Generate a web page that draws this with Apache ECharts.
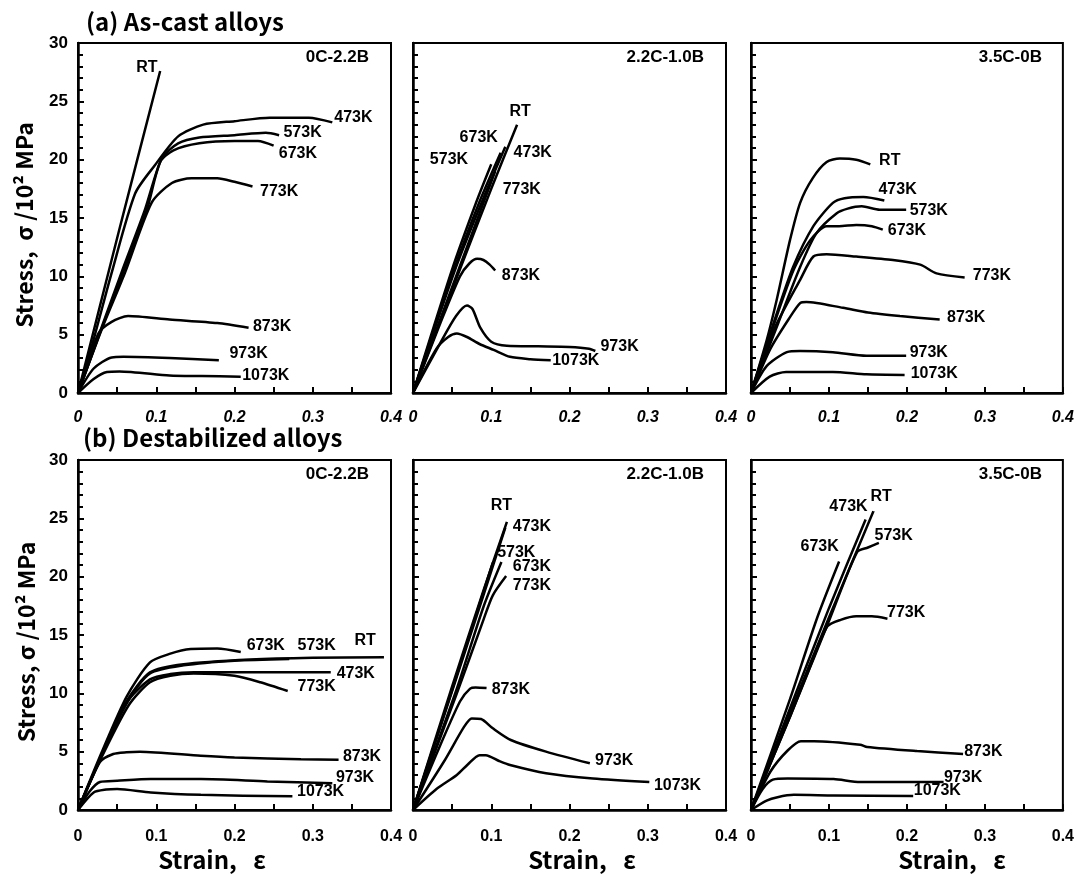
<!DOCTYPE html>
<html>
<head>
<meta charset="utf-8">
<title>Stress-strain curves</title>
<script src="https://cdn.jsdelivr.net/npm/echarts@6/dist/echarts.min.js"></script>
<style>
  html, body { margin: 0; padding: 0; background: #fff; }
  #chart { width: 1077px; height: 875px; }
</style>
</head>
<body>
<div id="chart"></div>
<script>
// test temperatures, same order in every panel
const temps = ['RT', '473K', '573K', '673K', '773K', '873K', '973K', '1073K']
const strainTicks = [0, 0.1, 0.2, 0.3, 0.4]
const stressTicks = [0, 5, 10, 15, 20, 25, 30]

// (a) as-cast, 0C-2.2B   [strain, stress /10^2 MPa]
const cast0C = {
  'RT':    [[0, 0], [0.052, 13.8], [0.105, 27.6]],
  '473K':  [[0, 0], [0.02, 4.6], [0.043, 10.3], [0.073, 17.1], [0.098, 19.5], [0.128, 22.0], [0.16, 23.0], [0.2, 23.3], [0.245, 23.6], [0.295, 23.6], [0.325, 23.2]],
  '573K':  [[0, 0], [0.03, 5.6], [0.056, 10.4], [0.085, 15.6], [0.107, 20.1], [0.128, 21.4], [0.155, 21.9], [0.2, 22.1], [0.24, 22.3], [0.257, 22.1]],
  '673K':  [[0, 0], [0.03, 5.5], [0.058, 10.4], [0.088, 15.7], [0.105, 19.8], [0.122, 20.8], [0.155, 21.4], [0.2, 21.6], [0.23, 21.6], [0.25, 21.2]],
  '773K':  [[0, 0], [0.03, 5.4], [0.06, 10.3], [0.094, 16.3], [0.12, 18.0], [0.145, 18.4], [0.178, 18.4], [0.2, 18.1], [0.223, 17.7]],
  '873K':  [[0, 0], [0.026, 5.1], [0.043, 6.1], [0.064, 6.6], [0.117, 6.3], [0.178, 6.0], [0.218, 5.6]],
  '973K':  [[0, 0], [0.02, 2.1], [0.043, 3.05], [0.058, 3.1], [0.117, 3.0], [0.18, 2.8]],
  '1073K': [[0, 0], [0.02, 1.2], [0.037, 1.8], [0.053, 1.85], [0.117, 1.5], [0.158, 1.45], [0.208, 1.4]]
}
const cast0CLabels = [['RT', 0.088, 27.9], ['473K', 0.352, 23.6], ['573K', 0.287, 22.3], ['673K', 0.281, 20.5],
  ['773K', 0.257, 17.3], ['873K', 0.248, 5.7], ['973K', 0.218, 3.4], ['1073K', 0.24, 1.5]]

// (a) as-cast, 2.2C-1.0B
const cast22C = {
  'RT':    [[0, 0], [0.06, 10.6], [0.1, 17.5], [0.133, 23.0]],
  '473K':  [[0, 0], [0.055, 10.8], [0.09, 16.7], [0.118, 21.1]],
  '573K':  [[0, 0], [0.05, 10.6], [0.08, 16.2], [0.1, 19.6]],
  '673K':  [[0, 0], [0.052, 10.5], [0.085, 16.4], [0.112, 20.6]],
  '773K':  [[0, 0], [0.06, 10.9], [0.085, 15.4], [0.105, 19.0]],
  '873K':  [[0, 0], [0.035, 6.0], [0.06, 10.0], [0.072, 11.1], [0.082, 11.5], [0.09, 11.4], [0.098, 11.0], [0.105, 10.5]],
  '973K':  [[0, 0], [0.035, 4.3], [0.055, 6.6], [0.069, 7.5], [0.076, 7.2], [0.086, 5.6], [0.1, 4.4], [0.12, 4.05], [0.16, 4.0], [0.2, 3.95], [0.225, 3.8], [0.233, 3.6]],
  '1073K': [[0, 0], [0.03, 3.8], [0.045, 4.8], [0.056, 5.1], [0.069, 4.8], [0.085, 4.2], [0.103, 3.7], [0.124, 3.1], [0.15, 2.9], [0.176, 2.8]]
}
const cast22CLabels = [['RT', 0.137, 24.1], ['673K', 0.084, 21.9], ['573K', 0.046, 20.0], ['473K', 0.153, 20.6],
  ['773K', 0.139, 17.4], ['873K', 0.138, 10.1], ['973K', 0.264, 4.0], ['1073K', 0.208, 2.8]]

// (a) as-cast, 3.5C-0B
const cast35C = {
  'RT':    [[0, 0], [0.02, 4.5], [0.033, 8.0], [0.05, 13.1], [0.063, 16.3], [0.079, 18.4], [0.097, 19.8], [0.114, 20.1], [0.135, 20.0], [0.153, 19.6]],
  '473K':  [[0, 0], [0.03, 6.2], [0.054, 10.8], [0.08, 14.3], [0.105, 16.3], [0.12, 16.7], [0.144, 16.8], [0.171, 16.5]],
  '573K':  [[0, 0], [0.035, 6.0], [0.063, 10.8], [0.084, 13.7], [0.11, 15.4], [0.124, 15.8], [0.142, 16.0], [0.165, 15.7], [0.199, 15.7]],
  '673K':  [[0, 0], [0.03, 6.0], [0.055, 10.6], [0.076, 13.1], [0.097, 14.3], [0.113, 14.3], [0.135, 14.4], [0.155, 14.3], [0.169, 14.0]],
  '773K':  [[0, 0], [0.03, 5.5], [0.063, 9.7], [0.08, 11.7], [0.097, 11.9], [0.135, 11.7], [0.182, 11.4], [0.217, 11.0], [0.238, 10.25], [0.274, 9.9]],
  '873K':  [[0, 0], [0.025, 3.8], [0.05, 6.5], [0.063, 7.7], [0.071, 7.8], [0.118, 7.3], [0.15, 6.9], [0.191, 6.6], [0.242, 6.3]],
  '973K':  [[0, 0], [0.02, 2.3], [0.046, 3.5], [0.063, 3.6], [0.105, 3.5], [0.148, 3.2], [0.199, 3.2]],
  '1073K': [[0, 0], [0.024, 1.4], [0.045, 1.8], [0.105, 1.8], [0.148, 1.6], [0.197, 1.55]]
}
const cast35CLabels = [['RT', 0.178, 19.9], ['473K', 0.188, 17.4], ['573K', 0.228, 15.6], ['673K', 0.2, 13.9],
  ['773K', 0.309, 10.1], ['873K', 0.276, 6.5], ['973K', 0.228, 3.5], ['1073K', 0.235, 1.7]]

// (b) destabilized, 0C-2.2B
const dest0C = {
  'RT':    [[0, 0], [0.03, 4.7], [0.062, 9.3], [0.092, 11.8], [0.135, 12.5], [0.221, 12.9], [0.3, 13.05], [0.391, 13.1]],
  '473K':  [[0, 0], [0.03, 4.7], [0.062, 9.2], [0.092, 11.2], [0.118, 11.65], [0.148, 11.8], [0.2, 11.8], [0.323, 11.8]],
  '573K':  [[0, 0], [0.03, 4.6], [0.062, 9.1], [0.092, 11.7], [0.135, 12.4], [0.2, 12.8], [0.27, 12.95]],
  '673K':  [[0, 0], [0.03, 4.9], [0.062, 9.7], [0.092, 12.65], [0.118, 13.4], [0.144, 13.8], [0.178, 13.85], [0.208, 13.55]],
  '773K':  [[0, 0], [0.03, 4.5], [0.065, 9.0], [0.092, 10.95], [0.118, 11.5], [0.148, 11.7], [0.2, 11.5], [0.233, 10.95], [0.268, 10.2]],
  '873K':  [[0, 0], [0.028, 4.1], [0.045, 4.8], [0.062, 4.95], [0.079, 5.0], [0.157, 4.65], [0.2, 4.5], [0.285, 4.35], [0.333, 4.3]],
  '973K':  [[0, 0], [0.015, 1.6], [0.028, 2.4], [0.05, 2.5], [0.093, 2.65], [0.157, 2.65], [0.242, 2.45], [0.325, 2.3]],
  '1073K': [[0, 0], [0.02, 1.5], [0.036, 1.75], [0.05, 1.8], [0.093, 1.5], [0.157, 1.3], [0.274, 1.17]]
}
const dest0CLabels = [['673K', 0.24, 14.05], ['573K', 0.305, 14.05], ['RT', 0.367, 14.5], ['473K', 0.355, 11.7],
  ['773K', 0.305, 10.6], ['873K', 0.363, 4.6], ['973K', 0.354, 2.8], ['1073K', 0.31, 1.55]]

// (b) destabilized, 2.2C-1.0B
const dest22C = {
  'RT':    [[0, 0], [0.05, 10.6], [0.09, 18.8], [0.12, 24.7]],
  '473K':  [[0, 0], [0.05, 10.2], [0.09, 18.4], [0.118, 24.2]],
  '573K':  [[0, 0], [0.05, 10.3], [0.08, 16.6], [0.102, 21.2]],
  '673K':  [[0, 0], [0.055, 10.2], [0.09, 17.4], [0.113, 21.25]],
  '773K':  [[0, 0], [0.055, 9.8], [0.09, 16.3], [0.102, 18.4], [0.119, 20.05]],
  '873K':  [[0, 0], [0.03, 4.8], [0.06, 9.3], [0.073, 10.4], [0.08, 10.5], [0.094, 10.45]],
  '973K':  [[0, 0], [0.04, 4.2], [0.065, 7.1], [0.075, 7.85], [0.087, 7.8], [0.102, 7.0], [0.125, 6.0], [0.17, 5.0], [0.226, 4.0]],
  '1073K': [[0, 0], [0.03, 1.8], [0.056, 3.0], [0.07, 3.9], [0.085, 4.7], [0.093, 4.7], [0.11, 4.2], [0.124, 3.85], [0.17, 3.15], [0.23, 2.7], [0.302, 2.4]]
}
const dest22CLabels = [['RT', 0.113, 26.1], ['473K', 0.152, 24.3], ['573K', 0.132, 22.1], ['673K', 0.152, 20.9],
  ['773K', 0.152, 19.2], ['873K', 0.125, 10.3], ['973K', 0.257, 4.2], ['1073K', 0.338, 2.1]]

// (b) destabilized, 3.5C-0B
const dest35C = {
  'RT':    [[0, 0], [0.05, 8.3], [0.1, 16.5], [0.157, 25.6]],
  '473K':  [[0, 0], [0.05, 8.7], [0.1, 17.3], [0.147, 24.9]],
  '573K':  [[0, 0], [0.05, 8.0], [0.1, 16.2], [0.136, 22.1], [0.15, 22.5], [0.164, 22.9]],
  '673K':  [[0, 0], [0.05, 9.5], [0.085, 16.5], [0.113, 21.3]],
  '773K':  [[0, 0], [0.05, 8.0], [0.08, 13.0], [0.098, 15.75], [0.115, 16.3], [0.135, 16.6], [0.155, 16.6], [0.175, 16.4]],
  '873K':  [[0, 0], [0.025, 3.3], [0.047, 5.1], [0.064, 5.9], [0.081, 5.9], [0.14, 5.6], [0.149, 5.4], [0.213, 5.05], [0.272, 4.8]],
  '973K':  [[0, 0], [0.015, 1.8], [0.028, 2.6], [0.047, 2.7], [0.106, 2.65], [0.14, 2.4], [0.247, 2.4]],
  '1073K': [[0, 0], [0.02, 0.8], [0.034, 1.1], [0.055, 1.3], [0.106, 1.25], [0.208, 1.2]]
}
const dest35CLabels = [['RT', 0.167, 26.9], ['473K', 0.125, 26.0], ['673K', 0.088, 22.6], ['573K', 0.183, 23.5],
  ['773K', 0.199, 16.9], ['873K', 0.298, 5.0], ['973K', 0.272, 2.8], ['1073K', 0.239, 1.7]]

const panels = [
  { alloy: '0C-2.2B', curves: cast0C, labels: cast0CLabels },
  { alloy: '2.2C-1.0B', curves: cast22C, labels: cast22CLabels },
  { alloy: '3.5C-0B', curves: cast35C, labels: cast35CLabels },
  { alloy: '0C-2.2B', curves: dest0C, labels: dest0CLabels },
  { alloy: '2.2C-1.0B', curves: dest22C, labels: dest22CLabels },
  { alloy: '3.5C-0B', curves: dest35C, labels: dest35CLabels }
]

// layout
const colLeft = [78, 413, 751]
const rowTop = [43, 460]
const gridW = 313
const gridH = 350

const labelFont = 'Liberation Sans, Arial, sans-serif'
const gothic = '"Noto Sans CJK JP", "Noto Sans", sans-serif'

const chart = echarts.init(document.getElementById('chart'))

const option = {
  animation: false,
  backgroundColor: '#fff',
  grid: [],
  xAxis: [],
  yAxis: [],
  series: [],
  graphic: []
}

panels.forEach((p, i) => {
  const row = Math.floor(i / 3)
  const col = i % 3
  option.grid.push({
    left: colLeft[col], top: rowTop[row], width: gridW, height: gridH,
    show: true, borderColor: '#000', borderWidth: 2, backgroundColor: 'transparent'
  })
  option.xAxis.push({
    type: 'value', gridIndex: i,
    min: strainTicks[0], max: strainTicks[strainTicks.length - 1], interval: 0.1,
    axisLine: { onZero: false, lineStyle: { color: '#000', width: 2.5 } },
    axisTick: { inside: true, length: 6, lineStyle: { color: '#000', width: 2 } },
    minorTick: { show: true, splitNumber: 2, length: 6, lineStyle: { color: '#000', width: 2 } },
    splitLine: { show: false },
    axisLabel: {
      margin: row ? 19 : 17, color: '#000', fontSize: 16, fontWeight: 'bold',
      fontStyle: row ? 'normal' : 'italic', fontFamily: labelFont,
      showMinLabel: true, showMaxLabel: true,
      formatter: v => v === 0 ? '0' : v.toFixed(1)
    }
  })
  option.yAxis.push({
    type: 'value', gridIndex: i,
    min: stressTicks[0], max: stressTicks[stressTicks.length - 1], interval: 5,
    axisLine: { onZero: false, lineStyle: { color: '#000', width: 2.5 } },
    axisTick: { inside: true, length: 6, lineStyle: { color: '#000', width: 2 } },
    minorTick: { show: true, splitNumber: 5, length: 5, lineStyle: { color: '#000', width: 2 } },
    splitLine: { show: false },
    axisLabel: {
      show: col === 0, margin: 10, color: '#000', fontSize: 17, fontWeight: 'bold', fontFamily: labelFont
    }
  })

  temps.forEach(t => {
    option.series.push({
      type: 'line', name: t, xAxisIndex: i, yAxisIndex: i,
      data: p.curves[t],
      showSymbol: false, smooth: 0.25,
      lineStyle: { color: '#000', width: 2.5 },
      silent: true
    })
  })

  // curve labels
  option.series.push({
    type: 'scatter', xAxisIndex: i, yAxisIndex: i, symbolSize: 0, silent: true,
    itemStyle: { color: '#000', opacity: 1 },
    data: p.labels.map(l => ({ name: l[0], value: [l[1], l[2]] })),
    label: {
      show: true, position: 'inside', formatter: '{b}', color: '#000', opacity: 1,
      textBorderWidth: 0, fontSize: 16, fontWeight: 'bold', fontFamily: labelFont
    }
  })

  // alloy name in the top-right corner
  option.graphic.push({
    type: 'text', right: 1077 - (colLeft[col] + gridW) + 22, top: rowTop[row] + 6,
    style: { text: p.alloy, fill: '#000', font: 'bold 17px ' + labelFont }
  })
})

// row titles
option.graphic.push(
  { type: 'text', left: 86, top: 10, style: { text: '(a) As-cast alloys', fill: '#000', font: 'bold 24px ' + gothic } },
  { type: 'text', left: 83, top: 426, style: { text: '(b) Destabilized alloys', fill: '#000', font: 'bold 24px ' + gothic } }
)

// y-axis names (rotated)
const yNames = [['Stress,  σ /10² MPa', 24, 225], ['Stress, σ /10² MPa', 26, 642]]
yNames.forEach(n => {
  option.graphic.push({
    type: 'text', x: n[1], y: n[2], rotation: Math.PI / 2,
    style: {
      text: n[0], fill: '#000', font: 'bold 23px ' + gothic,
      align: 'center', verticalAlign: 'middle', textAlign: 'center', textVerticalAlign: 'middle'
    }
  })
})

// x-axis names below the lower row
const xNameX = [212, 582, 952]
xNameX.forEach(x => {
  option.graphic.push({
    type: 'text', x: x, y: 860,
    style: {
      text: 'Strain,   ε', fill: '#000', font: 'bold 24px ' + gothic,
      align: 'center', verticalAlign: 'middle', textAlign: 'center', textVerticalAlign: 'middle'
    }
  })
})

chart.setOption(option)
</script>
</body>
</html>
